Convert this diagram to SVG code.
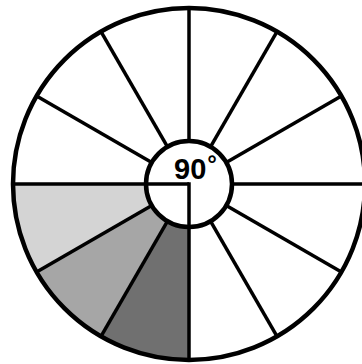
<svg xmlns="http://www.w3.org/2000/svg" width="362" height="364" viewBox="0 0 362 364">
<style>
.ln{stroke:#000;stroke-width:3.5;fill:none;stroke-linecap:butt}
.ring{stroke:#000;stroke-width:4.5;}
.lbl{font-family:"Liberation Sans",Arial,sans-serif;font-weight:bold;font-size:29px;fill:#000}
</style>
<rect width="362" height="364" fill="#fff"/>
<g id="shaded-sectors">
<path id="sector-light" d="M189,184 L13,184 A176,176 0 0 0 36.58,272 Z" fill="#d4d4d4"/>
<path id="sector-medium" d="M189,184 L36.58,272 A176,176 0 0 0 101,336.42 Z" fill="#a6a6a6"/>
<path id="sector-dark" d="M189,184 L101,336.42 A176,176 0 0 0 189,360 Z" fill="#707070"/>
</g>
<g id="outer-circle"><circle cx="189" cy="184" r="176" class="ring" fill="none"/></g>
<g id="spokes" class="ln">
<line x1="232" y1="184" x2="365" y2="184"/>
<line x1="226.24" y1="162.5" x2="341.42" y2="96"/>
<line x1="210.5" y1="146.76" x2="277" y2="31.58"/>
<line x1="189" y1="141" x2="189" y2="8"/>
<line x1="167.5" y1="146.76" x2="101" y2="31.58"/>
<line x1="151.76" y1="162.5" x2="36.58" y2="96"/>
<line x1="151.76" y1="205.5" x2="36.58" y2="272"/>
<line x1="167.5" y1="221.24" x2="101" y2="336.42"/>
<line x1="210.5" y1="221.24" x2="277" y2="336.42"/>
<line x1="226.24" y1="205.5" x2="341.42" y2="272"/>
</g>
<g id="center-circle">
<circle cx="189" cy="184" r="43" class="ring" fill="#fff"/>
<g id="right-angle" class="ln">
<line x1="13" y1="184" x2="189" y2="184"/>
<line x1="189" y1="182.25" x2="189" y2="360"/>
</g>
<text class="lbl" x="174" y="179">90<tspan font-size="24" dx="1" dy="-7">°</tspan></text>
</g>
</svg>
